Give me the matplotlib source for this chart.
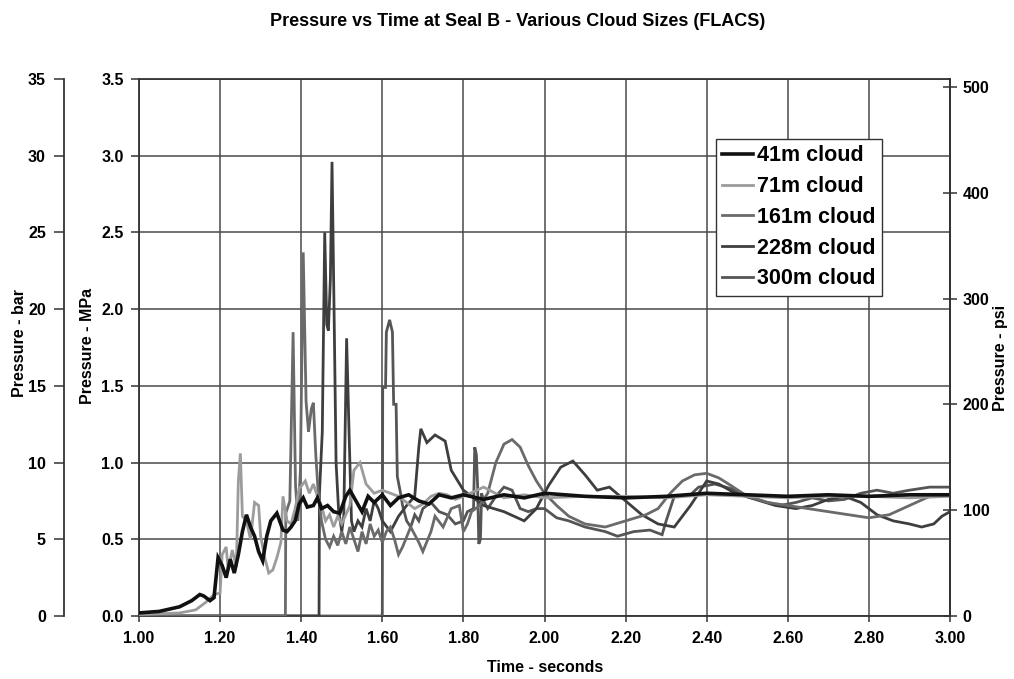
import matplotlib
matplotlib.use('Agg')
import matplotlib.pyplot as plt
import numpy as np

plt.rcParams['font.family'] = ['Liberation Sans', 'DejaVu Sans']
plt.rcParams['font.weight'] = 'bold'

# ---------------- data (time in s, pressure in MPa) ----------------
t_41 = [1.00, 1.05, 1.10, 1.13, 1.15, 1.16, 1.175, 1.185, 1.195, 1.205, 1.215, 1.225,
        1.235, 1.245, 1.255, 1.265, 1.275, 1.285, 1.295, 1.305, 1.315, 1.325, 1.34,
        1.355, 1.365, 1.375, 1.385, 1.395, 1.405, 1.415, 1.43, 1.44, 1.45, 1.465,
        1.48, 1.495, 1.51, 1.52, 1.535, 1.55, 1.565, 1.58, 1.60, 1.62, 1.64, 1.665,
        1.69, 1.715, 1.74, 1.77, 1.80, 1.85, 1.90, 1.95, 2.00, 2.10, 2.20, 2.30,
        2.40, 2.50, 2.60, 2.70, 2.80, 2.90, 3.00]
p_41 = [0.02, 0.03, 0.06, 0.10, 0.14, 0.13, 0.10, 0.12, 0.38, 0.33, 0.25, 0.37,
        0.28, 0.40, 0.55, 0.66, 0.58, 0.52, 0.42, 0.36, 0.52, 0.62, 0.67,
        0.56, 0.55, 0.58, 0.62, 0.73, 0.77, 0.71, 0.72, 0.77, 0.70, 0.72,
        0.68, 0.67, 0.78, 0.82, 0.75, 0.68, 0.78, 0.74, 0.79, 0.72, 0.77, 0.79,
        0.75, 0.73, 0.79, 0.77, 0.79, 0.76, 0.79, 0.77, 0.80, 0.78, 0.77, 0.78,
        0.80, 0.79, 0.78, 0.79, 0.78, 0.79, 0.79]

t_71 = [1.00, 1.10, 1.14, 1.165, 1.185, 1.20, 1.205, 1.215, 1.22, 1.23, 1.24, 1.245,
        1.25, 1.255, 1.265, 1.275, 1.285, 1.295, 1.30, 1.31, 1.32, 1.33, 1.34, 1.35,
        1.355, 1.365, 1.375, 1.385, 1.395, 1.41, 1.42, 1.43, 1.44, 1.45, 1.46, 1.47,
        1.48, 1.49, 1.50, 1.52, 1.53, 1.545, 1.56, 1.58, 1.60, 1.62, 1.64, 1.66, 1.68,
        1.70, 1.72, 1.74, 1.76, 1.78, 1.80, 1.85, 1.90, 1.95, 2.00, 2.10, 2.20, 2.30,
        2.40, 2.50, 2.60, 2.70, 2.80, 2.90, 3.00]
p_71 = [0.01, 0.02, 0.04, 0.09, 0.14, 0.15, 0.40, 0.45, 0.30, 0.43, 0.32, 0.88,
        1.06, 0.65, 0.62, 0.50, 0.74, 0.72, 0.52, 0.38, 0.28, 0.30, 0.38, 0.48,
        0.78, 0.62, 0.60, 0.70, 0.83, 0.88, 0.80, 0.86, 0.78, 0.72, 0.62, 0.66,
        0.58, 0.65, 0.60, 0.72, 0.95, 1.00, 0.86, 0.80, 0.82, 0.80, 0.78, 0.74, 0.70,
        0.73, 0.78, 0.80, 0.79, 0.76, 0.78, 0.84, 0.77, 0.79, 0.77, 0.78, 0.78, 0.77,
        0.79, 0.78, 0.77, 0.78, 0.78, 0.77, 0.78]

t_161 = [1.00, 1.361, 1.362, 1.372, 1.38, 1.386, 1.392, 1.398, 1.405, 1.412, 1.418,
         1.425, 1.43, 1.436, 1.442, 1.45, 1.46, 1.47, 1.48, 1.49, 1.50, 1.51, 1.52,
         1.53, 1.54, 1.55, 1.56, 1.57, 1.58, 1.59, 1.60, 1.61, 1.62, 1.63, 1.64,
         1.65, 1.67, 1.69, 1.70, 1.72, 1.73, 1.75, 1.77, 1.79, 1.80, 1.81, 1.82,
         1.84, 1.86, 1.88, 1.90, 1.92, 1.94, 1.96, 1.98, 2.00, 2.03, 2.06, 2.10,
         2.15, 2.20, 2.25, 2.28, 2.31, 2.34, 2.37, 2.40, 2.43, 2.46, 2.50, 2.55,
         2.60, 2.65, 2.70, 2.75, 2.80, 2.85, 2.90, 2.95, 3.00]
p_161 = [0.00, 0.00, 0.67, 0.75, 1.85, 0.85, 0.62, 0.95, 2.37, 1.40, 1.20,
         1.35, 1.39, 1.05, 0.80, 0.62, 0.50, 0.45, 0.52, 0.46, 0.55, 0.47, 0.58,
         0.50, 0.42, 0.55, 0.47, 0.60, 0.52, 0.56, 0.48, 0.55, 0.58, 0.50, 0.40,
         0.45, 0.58, 0.48, 0.42, 0.55, 0.65, 0.58, 0.70, 0.72, 0.55, 0.60, 0.68,
         0.72, 0.80, 1.00, 1.12, 1.15, 1.10, 0.98, 0.88, 0.80, 0.72, 0.65, 0.60,
         0.58, 0.62, 0.66, 0.70, 0.80, 0.88, 0.92, 0.93, 0.90, 0.85, 0.78, 0.74,
         0.72, 0.70, 0.68, 0.66, 0.64, 0.66, 0.72, 0.78, 0.79]

t_228 = [1.00, 1.444, 1.445, 1.452, 1.458, 1.463, 1.467, 1.472, 1.476, 1.481, 1.486,
         1.492, 1.50, 1.505, 1.512, 1.518, 1.524, 1.53, 1.54, 1.55, 1.56, 1.57,
         1.58, 1.59, 1.60, 1.62, 1.64, 1.66, 1.68, 1.69, 1.695, 1.71, 1.73, 1.755,
         1.77, 1.80, 1.85, 1.90, 1.95, 1.98, 2.01, 2.04, 2.07, 2.10, 2.13, 2.16,
         2.20, 2.24, 2.28, 2.32, 2.36, 2.40, 2.43, 2.47, 2.52, 2.57, 2.62, 2.66,
         2.70, 2.74, 2.78, 2.82, 2.86, 2.90, 2.93, 2.96, 2.98, 3.00]
p_228 = [0.00, 0.00, 0.80, 1.20, 2.50, 1.90, 1.86, 2.20, 2.96, 2.00, 1.00,
         0.70, 0.55, 0.65, 1.81, 1.20, 0.62, 0.55, 0.62, 0.58, 0.70, 0.62,
         0.75, 0.70, 0.62, 0.55, 0.65, 0.72, 0.78, 1.10, 1.22, 1.13, 1.18, 1.14,
         0.95, 0.82, 0.72, 0.68, 0.62, 0.70, 0.85, 0.97, 1.01, 0.92, 0.82, 0.84,
         0.75, 0.66, 0.60, 0.58, 0.72, 0.88, 0.86, 0.80, 0.76, 0.72, 0.70, 0.72,
         0.76, 0.78, 0.74, 0.66, 0.62, 0.60, 0.58, 0.60, 0.65, 0.68]

t_300 = [1.00, 1.600, 1.601, 1.608, 1.61, 1.618, 1.625, 1.628, 1.634, 1.637, 1.645,
         1.65, 1.66, 1.67, 1.68, 1.69, 1.70, 1.72, 1.74, 1.76, 1.78, 1.80, 1.81,
         1.825, 1.828, 1.832, 1.835, 1.838, 1.842, 1.845, 1.85, 1.86, 1.88, 1.90,
         1.92, 1.94, 1.96, 1.98, 2.00, 2.03, 2.06, 2.10, 2.15, 2.18, 2.22, 2.26,
         2.29, 2.30, 2.32, 2.36, 2.38, 2.42, 2.46, 2.50, 2.55, 2.58, 2.62, 2.66,
         2.70, 2.74, 2.78, 2.82, 2.86, 2.90, 2.95, 3.00]
p_300 = [0.00, 0.00, 1.49, 1.49, 1.85, 1.93, 1.85, 1.38, 1.38, 0.91, 0.80,
         0.72, 0.62, 0.58, 0.66, 0.62, 0.70, 0.74, 0.68, 0.66, 0.60, 0.62, 0.68,
         0.70, 1.10, 1.05, 0.85, 0.47, 0.50, 0.80, 0.75, 0.70, 0.78, 0.84,
         0.82, 0.70, 0.68, 0.70, 0.70, 0.64, 0.62, 0.58, 0.55, 0.52, 0.55, 0.56,
         0.53, 0.62, 0.78, 0.79, 0.84, 0.86, 0.83, 0.78, 0.74, 0.72, 0.74, 0.77,
         0.75, 0.76, 0.80, 0.82, 0.80, 0.82, 0.84, 0.84]

labels = ['41m cloud', '71m cloud', '161m cloud', '228m cloud', '300m cloud']
colors = ['#111111', '#9c9c9c', '#6a6a6a', '#3e3e3e', '#555555']
widths = [2.6, 2.0, 2.0, 2.0, 2.0]
series_t = [t_41, t_71, t_161, t_228, t_300]
series_p = [p_41, p_71, p_161, p_228, p_300]

x_ticks = [1.0, 1.2, 1.4, 1.6, 1.8, 2.0, 2.2, 2.4, 2.6, 2.8, 3.0]
mpa_ticks = [0.0, 0.5, 1.0, 1.5, 2.0, 2.5, 3.0, 3.5]
bar_ticks = [0, 5, 10, 15, 20, 25, 30, 35]
psi_ticks = [0, 100, 200, 300, 400, 500]
PSI_PER_MPA = 145.038
BAR_PER_MPA = 10.0

# ---------------- layout ----------------
W, H = 1014, 679
L, R, B, T = 139, 950, 616, 79
fig = plt.figure(figsize=(W / 100, H / 100), dpi=100)
ax = fig.add_axes([L / W, (H - B) / H, (R - L) / W, (B - T) / H])

TICK_FS = 11.5
LAB_FS = 11.5

ax.set_xlim(1.0, 3.0)
ax.set_ylim(0, 3.5)
ax.set_xticks(x_ticks)
ax.set_xticklabels([f'{v:.2f}' for v in x_ticks], fontsize=TICK_FS, fontweight='bold')
ax.set_yticks(mpa_ticks)
ax.set_yticklabels([f'{v:.1f}' for v in mpa_ticks], fontsize=TICK_FS, fontweight='bold')
ax.grid(True, color='#4a4a4a', lw=1.1)
ax.set_axisbelow(True)
for s in ax.spines.values():
    s.set_color('#333333')
    s.set_linewidth(1.3)
ax.tick_params(axis='x', direction='out', length=4, width=1.1, color='#333333', pad=7)
ax.tick_params(axis='y', direction='out', length=6, width=1.1, color='#333333', pad=5)

order = [4, 3, 2, 1, 0]
lines = {}
for i in order:
    ln, = ax.plot(series_t[i], series_p[i], color=colors[i], lw=widths[i],
                  label=labels[i], solid_joinstyle='miter', zorder=3 + (4 - i) * 0.1)
    lines[i] = ln

leg = ax.legend([lines[i] for i in range(5)], labels, loc='upper left',
                bbox_to_anchor=((716 - L) / (R - L), (B - 139) / (B - T)),
                borderaxespad=0, frameon=True, fancybox=False, shadow=False,
                prop={'family': 'Liberation Sans', 'weight': 'bold', 'size': 15.5},
                handlelength=1.4, handletextpad=0.2, labelspacing=0.45,
                borderpad=0.3)
leg.get_frame().set_edgecolor('#333333')
leg.get_frame().set_linewidth(1.0)
leg.get_frame().set_facecolor('white')
leg.get_frame().set_alpha(1.0)
leg.set_zorder(10)

# psi axis (right)
ax_psi = ax.twinx()
ax_psi.set_ylim(0, 3.5 * PSI_PER_MPA)
ax_psi.set_yticks(psi_ticks)
ax_psi.set_yticklabels([str(v) for v in psi_ticks], fontsize=TICK_FS, fontweight='bold')
ax_psi.tick_params(axis='y', direction='inout', length=10, width=1.1, color='#333333', pad=4)
for s in ax_psi.spines.values():
    s.set_visible(False)
ax_psi.spines['right'].set_visible(True)
ax_psi.spines['right'].set_color('#333333')
ax_psi.spines['right'].set_linewidth(1.3)

# bar axis (far left)
ax_bar = ax.twinx()
ax_bar.set_ylim(0, 3.5 * BAR_PER_MPA)
for s in ax_bar.spines.values():
    s.set_visible(False)
ax_bar.spines['left'].set_visible(True)
ax_bar.spines['left'].set_position(('axes', (64 - L) / (R - L)))
ax_bar.spines['left'].set_color('#333333')
ax_bar.spines['left'].set_linewidth(1.3)
ax_bar.yaxis.set_ticks_position('left')
ax_bar.yaxis.set_label_position('left')
ax_bar.set_yticks(bar_ticks)
ax_bar.set_yticklabels([str(v) for v in bar_ticks], fontsize=TICK_FS, fontweight='bold')
ax_bar.tick_params(axis='y', direction='out', length=7, width=1.1, color='#333333', pad=6)

# labels
fig.text(20 / W, (H - 343) / H, 'Pressure - bar', rotation=90, ha='center', va='center',
         fontsize=LAB_FS, fontweight='bold')
fig.text(88 / W, (H - 346) / H, 'Pressure - MPa', rotation=90, ha='center', va='center',
         fontsize=LAB_FS, fontweight='bold')
fig.text(1000 / W, (H - 358) / H, 'Pressure - psi', rotation=90, ha='center', va='center',
         fontsize=LAB_FS, fontweight='bold')
fig.text(545 / W, (H - 668) / H, 'Time - seconds', ha='center', va='center',
         fontsize=LAB_FS, fontweight='bold')
fig.text(518 / W, (H - 22) / H, 'Pressure vs Time at Seal B - Various Cloud Sizes (FLACS)',
         ha='center', va='center', fontsize=13, fontweight='bold')

fig.savefig('out.png', dpi=100)
